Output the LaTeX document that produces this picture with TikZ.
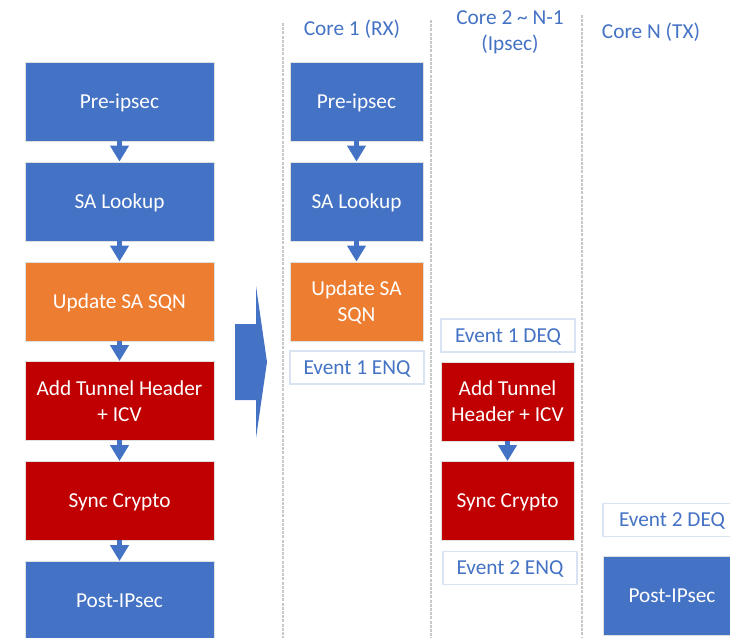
\documentclass[tikz,border=0pt]{standalone}
\usepackage{fontspec}
\setmainfont{Carlito}
\usetikzlibrary{arrows.meta}
\definecolor{pblue}{HTML}{4472C4}
\definecolor{porange}{HTML}{ED7D31}
\definecolor{pred}{HTML}{C00000}
\definecolor{evtline}{HTML}{DAE3F3}
\definecolor{laneline}{HTML}{C8C8C8}
\begin{document}
\begin{tikzpicture}[x=1pt,y=-1pt,
  txt/.style={font=\fontsize{21.3}{26}\selectfont},
  stage/.style={txt, draw=black!12, line width=0.8pt, text=white, align=center,
    inner sep=0pt, minimum height=79pt, text depth=0pt},
  wide/.style={stage, minimum width=189pt},
  narrow/.style={stage, minimum width=133pt},
  bluebox/.style={fill=pblue},
  orangebox/.style={fill=porange},
  redbox/.style={fill=pred},
  evtbox/.style={txt, draw=evtline, line width=1.5pt, fill=white, text=pblue,
    inner sep=0pt, minimum width=134pt, minimum height=33pt, text depth=0pt},
  lanehead/.style={txt, text=pblue, align=center, inner sep=0pt},
  lane/.style={draw=laneline, line width=1.4pt, dash pattern=on 3pt off 1.2pt},
  flow/.style={draw=pblue, line width=4.5pt,
    -{Triangle[length=16pt,width=18pt]}, shorten <=-0.5pt}
]
\useasboundingbox (0,0) rectangle (730,637);
\clip (0,0) rectangle (730,637);

% lane separators
\coordinate (l1t) at (283,23);  \coordinate (l1b) at (283,640);
\coordinate (l2t) at (431,20);  \coordinate (l2b) at (431,640);
\coordinate (l3t) at (582,15);  \coordinate (l3b) at (582,640);
\draw[lane] (l1t) -- (l1b);
\draw[lane] (l2t) -- (l2b);
\draw[lane] (l3t) -- (l3b);

% lane headings
\node[lanehead] (h1) at (352,29) {Core 1 (RX)};
\node[lanehead] (h2) at (510,32) {Core 2 \textasciitilde{} N-1\\(Ipsec)};
\node[lanehead] (h3) at (651,32) {Core N (TX)};

% single-core pipeline
\node[wide, bluebox]   (a1) at (119.5,101.5) {Pre-ipsec};
\node[wide, bluebox]   (a2) at (119.5,201.5) {SA Lookup};
\node[wide, orangebox] (a3) at (119.5,301.5) {Update SA SQN};
\node[wide, redbox]    (a4) at (119.5,401)   {Add Tunnel Header\\+ ICV};
\node[wide, redbox]    (a5) at (119.5,501)   {Sync Crypto};
\node[wide, bluebox]   (a6) at (119.5,601)   {Post-IPsec};
\draw[flow] (a1.south) -- (a2.north);
\draw[flow] (a2.south) -- (a3.north);
\draw[flow] (a3.south) -- (a4.north);
\draw[flow] (a4.south) -- (a5.north);
\draw[flow] (a5.south) -- (a6.north);

% block arrow
\fill[pblue] (235,324) -- (256,324) -- (256,286) -- (267,362)
  -- (256,438) -- (256,400) -- (235,400) -- cycle;

% core 1 (RX)
\node[narrow, bluebox]   (b1) at (356.5,101.5) {Pre-ipsec};
\node[narrow, bluebox]   (b2) at (356.5,201.5) {SA Lookup};
\node[narrow, orangebox] (b3) at (356.5,301.5) {Update SA\\SQN};
\node[evtbox]            (b4) at (357,367.5)   {Event 1 ENQ};
\draw[flow] (b1.south) -- (b2.north);
\draw[flow] (b2.south) -- (b3.north);

% cores 2 .. N-1 (Ipsec)
\node[evtbox]          (c1) at (508,335.5) {Event 1 DEQ};
\node[narrow, redbox]  (c2) at (507.5,401.5) {Add Tunnel\\Header + ICV};
\node[narrow, redbox]  (c3) at (507.5,501)   {Sync Crypto};
\node[evtbox]          (c4) at (510,568)     {Event 2 ENQ};
\draw[flow] (c2.south) -- (c3.north);

% core N (TX)
\node[evtbox, minimum width=138pt] (d1) at (672,520) {Event 2 DEQ};
\node[stage, bluebox, minimum width=138pt] (d2) at (672,595.5) {Post-IPsec};
\end{tikzpicture}
\end{document}
